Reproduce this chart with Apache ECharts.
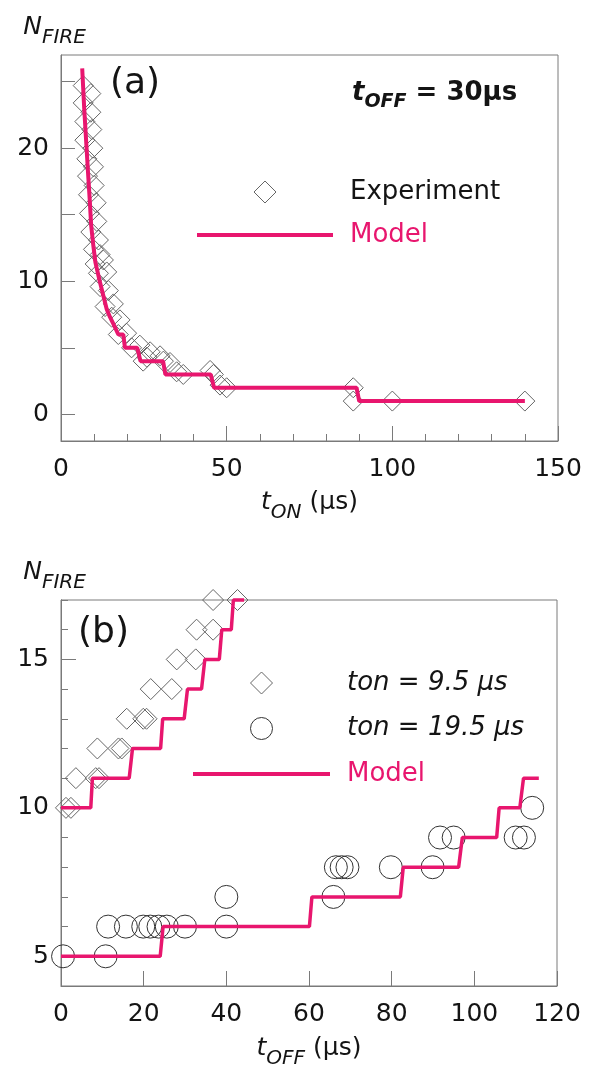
<!DOCTYPE html>
<html>
<head>
  <meta charset="UTF-8" />
  <title>N_FIRE vs t_ON / t_OFF</title>
  <script src="https://cdn.jsdelivr.net/npm/echarts@6/dist/echarts.min.js"></script>
  <style>
    html, body { margin: 0; background: #fff; }
    #main { width: 597px; height: 1065px; }
  </style>
</head>
<body>
  <div id="main"></div>
  <script>
    // (a) t_OFF = 30 us : N_FIRE against t_ON
    const expA = [
      [6.7, 24.7], [9.0, 24.1], [6.7, 23.4], [9.0, 22.7], [7.2, 22.0], [9.3, 21.4],
      [7.2, 20.6], [9.6, 20.0], [7.8, 19.2], [9.8, 18.6], [8.0, 17.9], [10.0, 17.2],
      [8.3, 16.5], [10.6, 15.9], [8.6, 15.1], [10.8, 14.5], [9.0, 13.7], [11.3, 13.1],
      [9.8, 12.4], [11.8, 12.0], [10.3, 11.3], [12.8, 11.6], [11.3, 10.6], [13.8, 10.7],
      [11.8, 9.6], [14.3, 9.3], [13.3, 8.1], [15.8, 8.3], [15.3, 7.3], [17.8, 7.1],
      [17.3, 6.0], [19.8, 6.1], [21.3, 5.0], [23.8, 5.2], [24.8, 4.0], [25.9, 4.3],
      [26.9, 4.7], [29.9, 4.4], [30.9, 4.0], [32.9, 3.9], [34.9, 3.2], [36.9, 3.0],
      [45.0, 3.3], [46.0, 3.0], [48.0, 2.2], [50.0, 2.0], [88.2, 2.0], [88.2, 1.0],
      [100, 1.0], [140, 1.0]
    ];
    const modelA = [
      [6.4, 26], [7.0, 23], [7.6, 20.5], [8.2, 18], [8.7, 16], [9.1, 14.2], [9.8, 12.6],
      [10.4, 11.4], [11.6, 10.1], [12.8, 8.9], [13.8, 7.9], [14.8, 7.3], [15.8, 6.8],
      [17.3, 6], [18.8, 6], [19.3, 5], [23.0, 5], [24.0, 4], [30.8, 4], [31.5, 3],
      [45.2, 3], [46.2, 2], [89.2, 2], [90.0, 1], [140, 1]
    ];

    // (b) N_FIRE against t_OFF
    const expB95 = [
      [1.2, 10], [2.4, 10], [3.6, 11], [8.4, 11], [9.2, 11], [8.8, 12], [13.9, 12],
      [14.7, 12], [15.9, 13], [19.9, 13], [20.7, 13], [21.7, 14], [26.8, 14], [28.0, 15],
      [32.6, 15], [32.8, 16], [36.8, 16], [36.8, 17], [42.7, 17]
    ];
    const expB195 = [
      [0.5, 5], [10.8, 5], [11.4, 6], [15.7, 6], [19.9, 6], [21.6, 6], [23.6, 6],
      [25.6, 6], [30.0, 6], [40, 6], [40, 7], [65.9, 7], [66.5, 8], [67.9, 8],
      [69.3, 8], [79.8, 8], [89.9, 8], [91.7, 9], [95, 9], [110, 9], [112, 9], [114, 10]
    ];
    const modelB95 = [
      [0, 10], [7.2, 10], [7.6, 11], [16.5, 11], [17.3, 12], [24.1, 12], [24.6, 13],
      [29.8, 13], [30.6, 14], [34.0, 14], [34.8, 15], [38.3, 15], [38.9, 16], [41.2, 16],
      [41.7, 17], [44.3, 17]
    ];
    const modelB195 = [
      [0, 5], [24.0, 5], [24.7, 6], [60.1, 6], [60.7, 7], [82.1, 7], [82.8, 8],
      [96.2, 8], [97.1, 9], [105.4, 9], [106.0, 10], [111.0, 10], [111.9, 11], [115.6, 11]
    ];

    const ticksAy = [0, 5, 10, 15, 20, 25];
    const labelsAy = [0, 10, 20];
    const majorBy = [5, 10, 15];

    const PINK = '#e8166e';
    const FRAME = '#7a7a7a';
    const INK = '#141414';
    const DIAMOND = '#666';
    const CIRCLE = '#333';
    const FONT = 'DejaVu Sans';
    const DIAMOND_ICON = 'path://M11,0L22,11L11,22L0,11Z';

    const chart = echarts.init(document.getElementById('main'));

    function subName(main, sub, rest) {
      return '{m|' + main + '}{s|' + sub + '}' + (rest ? '{r|' + rest + '}' : '');
    }
    const nameRich = {
      m: { fontFamily: FONT, fontSize: 25, fontStyle: 'italic', color: INK, lineHeight: 42 },
      s: { fontFamily: FONT, fontSize: 20, fontStyle: 'italic', color: INK, lineHeight: 20, verticalAlign: 'bottom' },
      r: { fontFamily: FONT, fontSize: 25, color: INK, lineHeight: 42 }
    };
    const labelStyle = { fontFamily: FONT, fontSize: 25, color: INK };

    function hollow(color) {
      return { color: 'rgba(0,0,0,0)', borderColor: color, borderWidth: 1, opacity: 1 };
    }

    chart.setOption({
      animation: false,
      backgroundColor: '#fff',
      grid: [
        { left: 61, top: 55, width: 497, height: 386, show: true, borderColor: FRAME, borderWidth: 1, outerBoundsMode: 'none' },
        { left: 61, top: 600, width: 496, height: 386, show: true, borderColor: FRAME, borderWidth: 1, outerBoundsMode: 'none' }
      ],
      xAxis: [
        {
          gridIndex: 0, type: 'value', min: 0, max: 150, interval: 50,
          axisLine: { onZero: false, lineStyle: { color: FRAME } },
          axisTick: { inside: true, length: 15, lineStyle: { color: FRAME } },
          minorTick: { show: true, splitNumber: 5, length: 7, lineStyle: { color: FRAME } },
          splitLine: { show: false },
          axisLabel: Object.assign({ margin: 16 }, labelStyle),
          name: subName('t', 'ON', ' (μs)'), nameLocation: 'middle', nameGap: 40,
          nameTextStyle: { rich: nameRich }
        },
        {
          gridIndex: 1, type: 'value', min: 0, max: 120, interval: 20,
          axisLine: { onZero: false, lineStyle: { color: FRAME } },
          axisTick: { inside: true, length: 15, lineStyle: { color: FRAME } },
          splitLine: { show: false },
          axisLabel: Object.assign({ margin: 16 }, labelStyle),
          name: subName('t', 'OFF', ' (μs)'), nameLocation: 'middle', nameGap: 41,
          nameTextStyle: { rich: nameRich }
        }
      ],
      yAxis: [
        {
          gridIndex: 0, type: 'value', min: -2, max: 27, position: 'left',
          axisLine: { onZero: false, lineStyle: { color: FRAME } },
          axisTick: { inside: true, length: 14, customValues: ticksAy, lineStyle: { color: FRAME } },
          splitLine: { show: false },
          axisLabel: Object.assign({ margin: 12, customValues: labelsAy }, labelStyle),
          name: subName('N', 'FIRE'), nameLocation: 'end', nameGap: 7,
          nameTextStyle: { rich: nameRich, padding: [0, 13, 0, 0] }
        },
        {
          gridIndex: 1, type: 'value', min: 4, max: 17, interval: 1, position: 'left',
          axisLine: { onZero: false, lineStyle: { color: FRAME } },
          axisTick: { inside: true, length: 7, lineStyle: { color: FRAME } },
          splitLine: { show: false },
          axisLabel: { show: false }
        },
        {
          gridIndex: 1, type: 'value', min: 4, max: 17, position: 'left', offset: 0,
          axisLine: { onZero: false, lineStyle: { color: FRAME } },
          axisTick: { inside: true, length: 15, customValues: majorBy, lineStyle: { color: FRAME } },
          splitLine: { show: false },
          axisLabel: Object.assign({ margin: 12, customValues: majorBy }, labelStyle),
          name: subName('N', 'FIRE'), nameLocation: 'end', nameGap: 7,
          nameTextStyle: { rich: nameRich, padding: [0, 13, 0, 0] }
        }
      ],
      legend: [
        {
          left: 197, top: 179, padding: 0, orient: 'vertical', selectedMode: false,
          itemWidth: 136, itemHeight: 22, itemGap: 17, symbolKeepAspect: true,
          itemStyle: { borderWidth: 1 }, lineStyle: { width: 4 },
          textStyle: { fontFamily: FONT, fontSize: 26, color: INK, padding: [0, 0, 0, 12] },
          data: [
            { name: 'Experiment', icon: DIAMOND_ICON },
            { name: 'Model', icon: 'path://M0,0H136V4H0Z', textStyle: { color: PINK } }
          ]
        },
        {
          left: 193, top: 670, padding: 0, orient: 'vertical', selectedMode: false,
          itemWidth: 137, itemHeight: 22, itemGap: 19.5, symbolKeepAspect: true,
          itemStyle: { borderWidth: 1 }, lineStyle: { width: 4 },
          textStyle: { fontFamily: FONT, fontSize: 26, color: INK, padding: [0, 0, 0, 12] },
          data: [
            { name: 'ton = 9.5 μs', icon: DIAMOND_ICON, textStyle: { fontStyle: 'italic' } },
            { name: 'ton = 19.5 μs', textStyle: { fontStyle: 'italic' } },
            { name: 'Model', icon: 'path://M0,0H137V4H0Z', textStyle: { color: PINK } }
          ]
        }
      ],
      graphic: [
        {
          type: 'text', x: 110, y: 84,
          style: { text: '(a)', fontFamily: FONT, fontSize: 36, fill: INK, align: 'left', verticalAlign: 'middle' }
        },
        {
          type: 'text', x: 78, y: 633,
          style: { text: '(b)', fontFamily: FONT, fontSize: 36, fill: INK, align: 'left', verticalAlign: 'middle' }
        },
        {
          type: 'text', x: 352, y: 93,
          style: {
            text: '{m|t}{s|OFF}{r| = 30μs}', align: 'left', verticalAlign: 'middle',
            rich: {
              m: { fontFamily: FONT, fontSize: 26, fontStyle: 'italic', fontWeight: 'bold', fill: INK, lineHeight: 38 },
              s: { fontFamily: FONT, fontSize: 19, fontStyle: 'italic', fontWeight: 'bold', fill: INK, lineHeight: 20, verticalAlign: 'bottom' },
              r: { fontFamily: FONT, fontSize: 26, fontWeight: 'bold', fill: INK, lineHeight: 38 }
            }
          }
        }
      ],
      series: [
        {
          name: 'Experiment', type: 'scatter', xAxisIndex: 0, yAxisIndex: 0,
          data: expA, symbol: 'diamond', symbolSize: 20, clip: false, z: 2, silent: true,
          itemStyle: hollow(DIAMOND)
        },
        {
          name: 'Model', type: 'line', xAxisIndex: 0, yAxisIndex: 0,
          data: modelA, symbol: 'none', clip: false, z: 3, silent: true,
          lineStyle: { color: PINK, width: 4 }, itemStyle: { color: PINK }
        },
        {
          name: 'ton = 9.5 μs', type: 'scatter', xAxisIndex: 1, yAxisIndex: 1,
          data: expB95, symbol: 'diamond', symbolSize: 21, clip: false, z: 2, silent: true,
          itemStyle: hollow(DIAMOND)
        },
        {
          name: 'ton = 19.5 μs', type: 'scatter', xAxisIndex: 1, yAxisIndex: 1,
          data: expB195, symbol: 'circle', symbolSize: 23, clip: false, z: 2, silent: true,
          itemStyle: hollow(CIRCLE)
        },
        {
          name: 'Model', type: 'line', xAxisIndex: 1, yAxisIndex: 1,
          data: modelB95, symbol: 'none', clip: false, z: 3, silent: true,
          lineStyle: { color: PINK, width: 3.5 }, itemStyle: { color: PINK }
        },
        {
          name: 'Model', type: 'line', xAxisIndex: 1, yAxisIndex: 1,
          data: modelB195, symbol: 'none', clip: false, z: 3, silent: true,
          lineStyle: { color: PINK, width: 3.5 }, itemStyle: { color: PINK }
        }
      ]
    });
  </script>
</body>
</html>
